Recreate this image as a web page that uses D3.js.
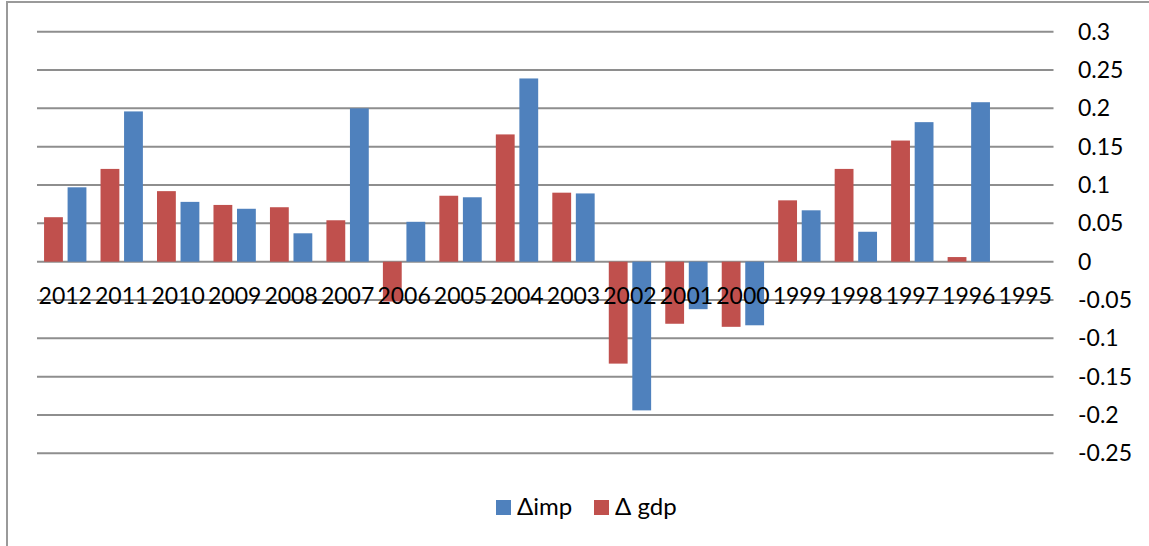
<!DOCTYPE html>
<html>
<head>
<meta charset="utf-8">
<script src="https://cdn.jsdelivr.net/npm/d3@7"></script>
<style>
  html, body { margin: 0; padding: 0; background: #fff; }
  svg { display: block; font-family: Lato, "Liberation Sans", sans-serif; }
</style>
</head>
<body>
<svg id="chart" width="1149" height="546"></svg>
<script>
// Year-on-year changes, newest year first
const years = ["2012","2011","2010","2009","2008","2007","2006","2005","2004","2003",
               "2002","2001","2000","1999","1998","1997","1996","1995"];
const gdpChange = [0.058, 0.121, 0.092, 0.074, 0.071, 0.054, -0.052, 0.086, 0.166, 0.090,
                   -0.133, -0.081, -0.085, 0.080, 0.121, 0.158, 0.006, null];
const impChange = [0.097, 0.196, 0.078, 0.069, 0.037, 0.200, 0.052, 0.084, 0.239, 0.089,
                   -0.194, -0.062, -0.083, 0.067, 0.039, 0.182, 0.208, null];
const yTicks = [0.3, 0.25, 0.2, 0.15, 0.1, 0.05, 0, -0.05, -0.1, -0.15, -0.2, -0.25];
const seriesKeys = ["gdp", "imp"];
const seriesNames = { imp: "\u0394imp", gdp: "\u0394 gdp" };
const seriesColors = { imp: "#4F81BD", gdp: "#C0504D" };

const svg = d3.select("#chart");

// Outer chart frame (runs off the right and bottom edges)
svg.append("rect")
  .attr("x", 7).attr("y", 2)
  .attr("width", 1160).attr("height", 560)
  .attr("fill", "none").attr("stroke", "#9a9a9a").attr("stroke-width", 2);

const plotLeft = 37, plotRight = 1053.5;
const x = d3.scaleBand().domain(years).range([plotLeft, plotRight]).padding(0);
const xs = d3.scaleBand().domain(seriesKeys).range([0, x.bandwidth()])
  .paddingInner(0.2).paddingOuter(0.3);
const y = d3.scaleLinear().domain([-0.25, 0.3]).range([453.3, 31.7]);

// Horizontal gridlines
svg.append("g").selectAll("line").data(yTicks).join("line")
  .attr("x1", plotLeft).attr("x2", plotRight)
  .attr("y1", d => y(d)).attr("y2", d => y(d))
  .attr("stroke", "#8e8e8e").attr("stroke-width", 2);

// Right-hand value axis labels
const yAxis = d3.axisRight(y).tickValues(yTicks).tickSize(0).tickPadding(0)
  .tickFormat(d => String(+d.toFixed(2)));
const yg = svg.append("g").attr("transform", "translate(1078,0)").call(yAxis);
yg.select(".domain").remove();
yg.selectAll("text").attr("font-size", 23).attr("fill", "#000")
  .attr("font-family", "Lato, 'Liberation Sans', sans-serif");

// Bars
const rows = years.map((yr, i) => ({ year: yr, gdp: gdpChange[i], imp: impChange[i] }));
const groups = svg.append("g").selectAll("g").data(rows).join("g")
  .attr("transform", d => `translate(${x(d.year)},0)`);
groups.selectAll("rect")
  .data(d => seriesKeys.filter(k => d[k] != null).map(k => ({ key: k, value: d[k] })))
  .join("rect")
  .attr("x", d => xs(d.key))
  .attr("width", xs.bandwidth())
  .attr("y", d => y(Math.max(0, d.value)))
  .attr("height", d => Math.abs(y(d.value) - y(0)))
  .attr("fill", d => seriesColors[d.key]);

// Category labels, drawn across the plot just below zero
const xAxis = d3.axisBottom(x).tickSize(0).tickPadding(0);
const xg = svg.append("g").attr("transform", "translate(0,287.5)").call(xAxis);
xg.select(".domain").remove();
xg.selectAll("text").attr("font-size", 23).attr("fill", "#000")
  .attr("dy", "0.71em")
  .attr("font-family", "Lato, 'Liberation Sans', sans-serif");

// Legend
const legendItems = [
  { key: "imp", sx: 496, tx: 517 },
  { key: "gdp", sx: 594, tx: 615 }
];
const lg = svg.append("g");
lg.selectAll("rect").data(legendItems).join("rect")
  .attr("x", d => d.sx).attr("y", 500).attr("width", 15).attr("height", 15)
  .attr("fill", d => seriesColors[d.key]);
lg.selectAll("text").data(legendItems).join("text")
  .attr("x", d => d.tx).attr("y", 515)
  .attr("font-size", 24).attr("fill", "#000")
  .text(d => seriesNames[d.key]);
</script>
</body>
</html>
